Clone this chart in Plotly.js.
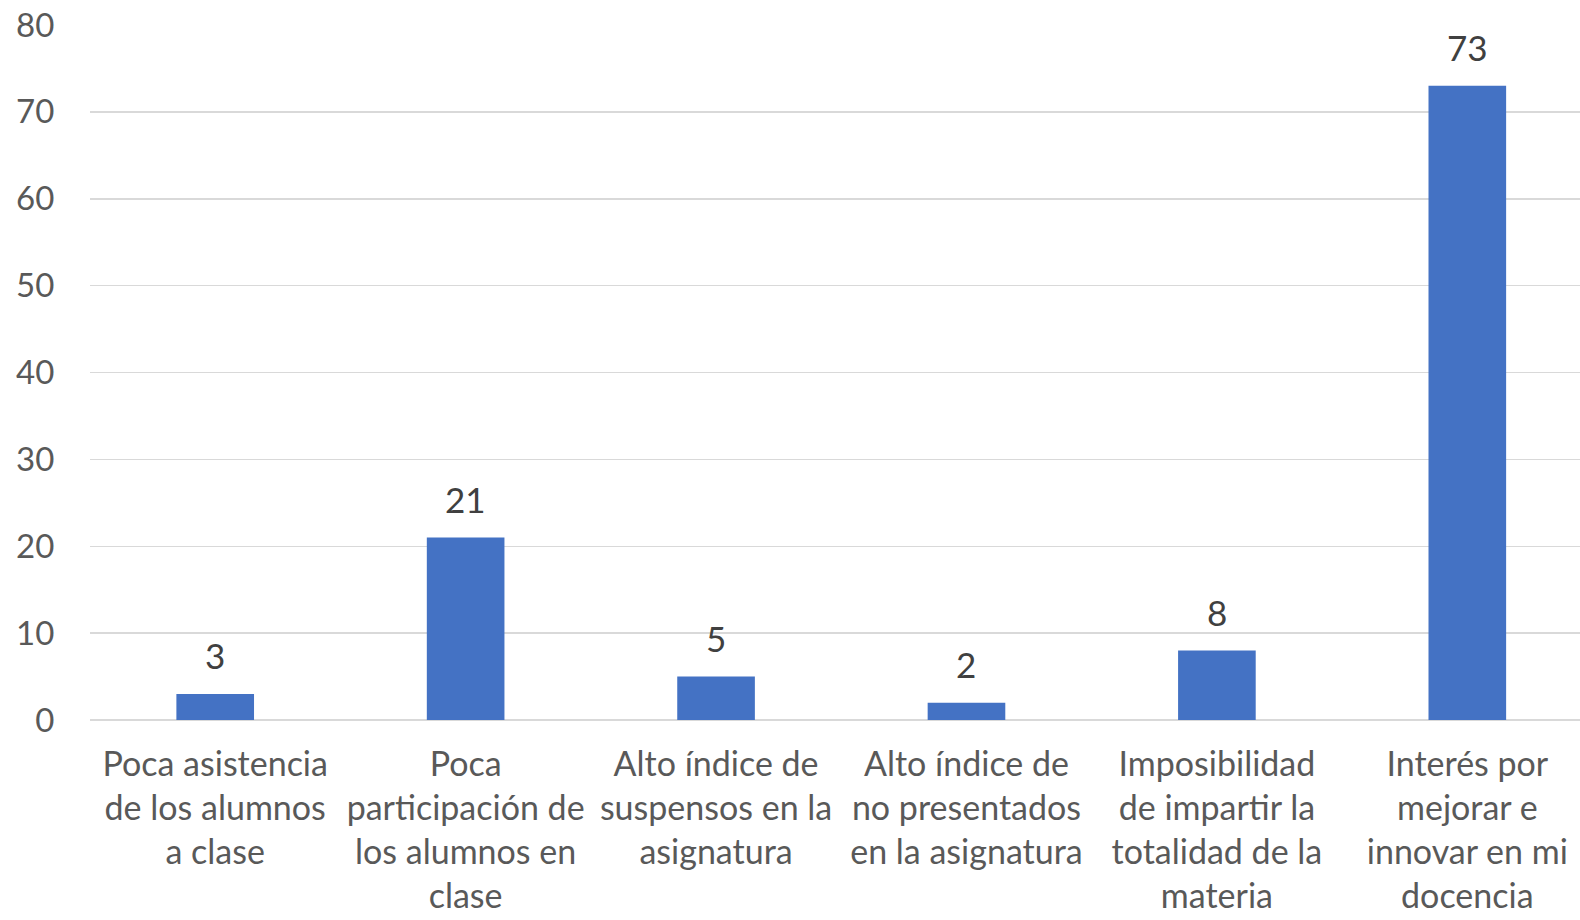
<!DOCTYPE html>
<html>
<head>
<meta charset="utf-8">
<script src="https://cdn.plot.ly/plotly-3.0.1.min.js"></script>
<style>html,body{margin:0;padding:0;background:#fff;}#chart{width:1580px;height:920px;}</style>
</head>
<body>
<div id="chart"></div>
<script>
const categories = [
  "Poca asistencia<br>de los alumnos<br>a clase",
  "Poca<br>participación de<br>los alumnos en<br>clase",
  "Alto índice de<br>suspensos en la<br>asignatura",
  "Alto índice de<br>no presentados<br>en la asignatura",
  "Imposibilidad<br>de impartir la<br>totalidad de la<br>materia",
  "Interés por<br>mejorar e<br>innovar en mi<br>docencia"
];
const values = [3, 21, 5, 2, 8, 73];
const yTicks = [0, 10, 20, 30, 40, 50, 60, 70, 80];

const FONT = "Lato, 'Open Sans', sans-serif";

const trace = {
  type: "bar",
  x: categories,
  y: values,
  marker: {color: "#4472C4"},
  width: 0.31,
  hoverinfo: "none"
};

const annotations = categories.map((c, i) => ({
  x: c, y: values[i], xref: "x", yref: "y",
  text: String(values[i]),
  showarrow: false, yanchor: "bottom", yshift: 16,
  font: {family: FONT, size: 35, color: "#404040"}
}));

const layout = {
  width: 1580, height: 920,
  margin: {l: 90, r: 0, t: 25, b: 200},
  paper_bgcolor: "#fff", plot_bgcolor: "#fff",
  showlegend: false,
  font: {family: FONT, color: "#595959"},
  xaxis: {
    type: "category",
    range: [-0.5, 5.45],
    showgrid: false,
    zeroline: false,
    showline: false,
    ticks: "outside", ticklen: 14, tickcolor: "rgba(0,0,0,0)",
    tickfont: {family: FONT, size: 34, color: "#595959"},
    tickangle: 0
  },
  yaxis: {
    range: [0, 80],
    tickvals: yTicks,
    ticktext: yTicks.map(String),
    showgrid: true, gridcolor: "#d9d9d9", gridwidth: 1.5,
    zeroline: true, zerolinecolor: "#d9d9d9", zerolinewidth: 1.5,
    showline: false,
    ticks: "outside", ticklen: 28, tickcolor: "rgba(0,0,0,0)",
    tickfont: {family: FONT, size: 33, color: "#595959"}
  },
  annotations: annotations
};

Plotly.newPlot("chart", [trace], layout, {displayModeBar: false, staticPlot: true});
</script>
</body>
</html>
